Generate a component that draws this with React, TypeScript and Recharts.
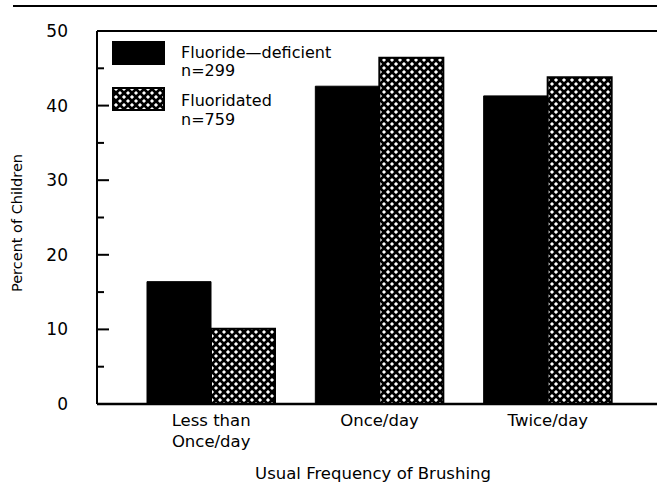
import React from "react";
import { BarChart, Bar, XAxis, YAxis, Legend, ReferenceLine, Label } from "recharts";

const categories = ["Less than\nOnce/day", "Once/day", "Twice/day"];
const fluorideDeficient = [16.4, 42.6, 41.3];
const fluoridated = [10.1, 46.4, 43.8];
const yTicks = [0, 5, 10, 15, 20, 25, 30, 35, 40, 45, 50];
const seriesNames = ["Fluoride\u2014deficient", "Fluoridated"];
const seriesNotes = ["n=299", "n=759"];
const xTitle = "Usual Frequency of Brushing";
const yTitle = "Percent of Children";

const data = categories.map((c, i) => ({
  cat: c,
  deficient: fluorideDeficient[i],
  fluoridated: fluoridated[i],
}));

const FONT = "'DejaVu Sans', sans-serif";

const YTick = (props: any) => {
  const { x, y, payload } = props;
  const v = payload.value;
  const major = v % 10 === 0;
  return (
    <g>
      <line x1={x} x2={x + (major ? 12 : 7)} y1={y} y2={y} stroke="#000" strokeWidth={2} />
      {major && (
        <text x={x - 29} y={y} dy={6} textAnchor="end" fontFamily={FONT} fontSize={17} fill="#000">
          {v}
        </text>
      )}
    </g>
  );
};

const XTick = (props: any) => {
  const { x, y, payload } = props;
  const lines = String(payload.value).split("\n");
  return (
    <g>
      {lines.map((l, i) => (
        <text key={i} x={x} y={y + 22 + i * 21} textAnchor="middle" fontFamily={FONT} fontSize={16.5} fill="#000">
          {l}
        </text>
      ))}
    </g>
  );
};

const LegendContent = () => (
  <svg width={280} height={90} style={{ display: "block" }}>
    <rect x={1} y={1} width={51} height={22} fill="#000" stroke="#000" strokeWidth={2} />
    <text x={69} y={17} fontFamily={FONT} fontSize={16} fill="#000">{seriesNames[0]}</text>
    <text x={69} y={35} fontFamily={FONT} fontSize={16} fill="#000">{seriesNotes[0]}</text>
    <rect x={1} y={47} width={51} height={22} fill="url(#xhatch)" stroke="#000" strokeWidth={2} />
    <text x={69} y={65} fontFamily={FONT} fontSize={16} fill="#000">{seriesNames[1]}</text>
    <text x={69} y={84} fontFamily={FONT} fontSize={16} fill="#000">{seriesNotes[1]}</text>
  </svg>
);

const XTitle = () => (
  <text x={373} y={479} textAnchor="middle" fontFamily={FONT} fontSize={16.5} fill="#000">
    {xTitle}
  </text>
);

const YTitle = () => (
  <text
    x={17}
    y={223}
    transform="rotate(-90, 17, 223)"
    textAnchor="middle"
    dominantBaseline="central"
    fontFamily={FONT}
    fontSize={14.5}
    fill="#000"
  >
    {yTitle}
  </text>
);

export default function App() {
  return (
    <div style={{ position: "absolute", left: 0, top: 0, width: 657, height: 485, background: "#fff" }}>
      <div style={{ position: "absolute", left: 13, top: 5, width: 644, height: 2, background: "#000" }} />
      <BarChart
        width={657}
        height={485}
        data={data}
        margin={{ top: 31, right: 0, bottom: 31, left: 0 }}
        barGap={0}
        barSize={64}
      >
        <defs>
          <pattern id="xhatch" patternUnits="userSpaceOnUse" width={8} height={8}>
            <rect width={8} height={8} fill="#fff" />
            <path d="M-2,2 L2,-2 M0,8 L8,0 M6,10 L10,6" stroke="#000" strokeWidth={2.7} />
            <path d="M-2,6 L2,10 M0,0 L8,8 M6,-2 L10,2" stroke="#000" strokeWidth={2.7} />
          </pattern>
        </defs>
        <XAxis
          dataKey="cat"
          height={50}
          padding={{ left: 30, right: 25 }}
          axisLine={{ stroke: "#000", strokeWidth: 2.5 }}
          tickLine={false}
          tickSize={0}
          tickMargin={0}
          interval={0}
          tick={<XTick />}
        >
          <Label content={<XTitle />} />
        </XAxis>
        <YAxis
          width={97}
          domain={[0, 50]}
          ticks={yTicks}
          interval={0}
          axisLine={{ stroke: "#000", strokeWidth: 2 }}
          tickLine={false}
          tickSize={0}
          tickMargin={0}
          tick={<YTick />}
        >
          <Label content={<YTitle />} />
        </YAxis>
        <ReferenceLine y={50} stroke="#000" strokeWidth={2} ifOverflow="visible" />
        <Legend
          layout="vertical"
          align="center"
          verticalAlign="middle"
          content={<LegendContent />}
          wrapperStyle={{ position: "absolute", left: 112, top: 41, width: 280, height: 90 }}
        />
        <Bar dataKey="deficient" fill="#000" stroke="#000" strokeWidth={1} isAnimationActive={false} />
        <Bar dataKey="fluoridated" fill="url(#xhatch)" stroke="#000" strokeWidth={2} isAnimationActive={false} />
      </BarChart>
    </div>
  );
}
